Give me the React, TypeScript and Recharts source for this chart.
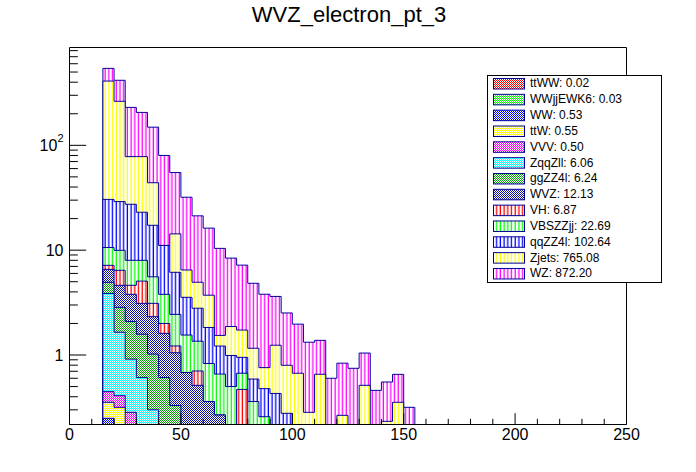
import React from 'react';
import { ComposedChart, Area, XAxis, YAxis, ReferenceArea, Legend } from 'recharts';

// bin low edges (GeV), 5 GeV bins
const BIN_LOW = [15, 20, 25, 30, 35, 40, 45, 50, 55, 60, 65, 70, 75, 80, 85, 90, 95, 100, 105, 110, 115, 120, 125, 130, 135, 140, 145, 150];
const BIN_END = 155;

// stack order, bottom to top (same as legend order)
const PROCESSES = ['ttWW', 'WWjjEWK6', 'WW', 'ttW', 'VVV', 'ZqqZll', 'ggZZ4l', 'WVZ', 'VH', 'VBSZZjj', 'qqZZ4l', 'Zjets', 'WZ'];
const TOTALS = ['0.02', '0.03', '0.53', '0.55', '0.50', '6.06', '6.24', '12.13', '6.87', '22.69', '102.64', '765.08', '872.20'];

// per-bin yields of each process
const ttWW = [0.006, 0.006, 0.004, 0.004, 0, 0, 0, 0, 0, 0, 0, 0, 0, 0, 0, 0, 0, 0, 0, 0, 0, 0, 0, 0, 0, 0, 0, 0];
const WWjjEWK6 = [0.01, 0.01, 0.005, 0.005, 0, 0, 0, 0, 0, 0, 0, 0, 0, 0, 0, 0, 0, 0, 0, 0, 0, 0, 0, 0, 0, 0, 0, 0];
const WW = [0.233, 0.199, 0.05, 0.05, 0, 0, 0, 0, 0, 0, 0, 0, 0, 0, 0, 0, 0, 0, 0, 0, 0, 0, 0, 0, 0, 0, 0, 0];
const ttW = [0.105, 0.102, 0.096, 0.07, 0.1, 0.05, 0, 0, 0, 0, 0, 0, 0, 0, 0, 0, 0, 0, 0, 0, 0, 0, 0, 0, 0, 0, 0, 0];
const VVV = [0.093, 0.092, 0.129, 0.07, 0.09, 0, 0, 0, 0, 0, 0, 0, 0, 0, 0, 0, 0, 0, 0, 0, 0, 0, 0, 0, 0, 0, 0, 0];
const ZqqZll = [3.42, 1.24, 0.63, 0.41, 0.11, 0, 0, 0, 0, 0, 0, 0, 0, 0, 0, 0, 0, 0, 0, 0, 0, 0, 0, 0, 0, 0, 0, 0];
const ggZZ4l = [1.07, 1.2, 1.17, 0.97, 0.72, 0.56, 0.33, 0, 0, 0, 0, 0, 0, 0, 0, 0, 0, 0, 0, 0, 0, 0, 0, 0, 0, 0, 0, 0];
const WVZ = [1.62, 1.77, 1.71, 1.53, 1.3, 1.0, 0.72, 0.68, 0.514, 0.36, 0.268, 0, 0, 0, 0, 0, 0, 0, 0, 0, 0, 0, 0, 0, 0, 0, 0, 0];
const VH = [0.61, 1.81, 0.83, 1.96, 0.79, 0.39, 0.17, 0, 0.19, 0, 0, 0, 0.47, 0, 0, 0, 0, 0, 0, 0, 0, 0, 0, 0, 0, 0, 0, 0];
const VBSZZjj = [3.43, 3.53, 3.38, 2.93, 2.46, 1.79, 1.22, 0.87, 0.65, 0.47, 0.39, 0.5, 0.2, 0.36, 0.258, 0.2, 0, 0, 0, 0, 0, 0, 0, 0, 0, 0, 0, 0];
const qqZZ4l = [19.9, 19.1, 19.4, 15, 11.7, 7.3, 3.71, 2.0, 1.44, 1.0, 0.56, 0.49, 0.28, 0.23, 0.22, 0.23, 0.278, 0, 0, 0, 0, 0, 0, 0, 0, 0, 0, 0];
const Zjets = [379.5, 234, 50.6, 55, 26.7, 0, 8.15, 2.92, 2.15, 1.89, 0.32, 0.88, 0.78, 0.57, 0.28, 0.81, 0.52, 0.67, 0.284, 0.655, 0, 0.266, 0, 0.514, 0, 0.233, 0.354, 0];
const WZ = [132, 154, 152, 128, 105, 69, 40.7, 25.5, 16.3, 12.5, 8.86, 6.53, 5.47, 3.67, 3.04, 2.38, 1.72, 1.3, 1.04, 0.725, 0.6, 0.57, 0.747, 0.53, 0.46, 0.32, 0.3, 0.317];

const X_TICKS = [0, 10, 20, 30, 40, 50, 60, 70, 80, 90, 100, 110, 120, 130, 140, 150, 160, 170, 180, 190, 200, 210, 220, 230, 240, 250];
const Y_TICKS = [0.3, 0.4, 0.5, 0.6, 0.7, 0.8, 0.9, 1, 2, 3, 4, 5, 6, 7, 8, 9, 10, 20, 30, 40, 50, 60, 70, 80, 90, 100, 200, 300, 400, 500, 600, 700, 800];
const Y_MIN = 0.2174;
const Y_MAX = 857;

const YIELDS: Record<string, number[]> = { ttWW, WWjjEWK6, WW, ttW, VVV, ZqqZll, ggZZ4l, WVZ, VH, VBSZZjj, qqZZ4l, Zjets, WZ };

const STYLES: Record<string, { color: string; hatch: boolean }> = {
  ttWW: { color: '#ff0000', hatch: false },
  WWjjEWK6: { color: '#00ff00', hatch: false },
  WW: { color: '#0000ff', hatch: false },
  ttW: { color: '#ffff00', hatch: false },
  VVV: { color: '#ff00ff', hatch: false },
  ZqqZll: { color: '#00ffff', hatch: false },
  ggZZ4l: { color: '#00a000', hatch: false },
  WVZ: { color: '#1010a0', hatch: false },
  VH: { color: '#ff0000', hatch: true },
  VBSZZjj: { color: '#00ff00', hatch: true },
  qqZZ4l: { color: '#0000ff', hatch: true },
  Zjets: { color: '#ffff00', hatch: true },
  WZ: { color: '#ff00ff', hatch: true },
};

const OUTLINE = '#00009c';
const FONT = '"Liberation Sans", Arial, Helvetica, sans-serif';
const HATCH = 3.71;
const FLOOR = 0.1; // below the axis, clipped away

// cumulative stack, one row per bin edge (step curves)
const floorRow = () => {
  const r: Record<string, number> = {};
  PROCESSES.forEach((p) => (r[p] = FLOOR));
  return r;
};
const rows = [
  { x: BIN_LOW[0], ...floorRow() },
  ...BIN_LOW.map((lo, i) => {
    const r: Record<string, number> = { x: lo };
    let sum = 0;
    PROCESSES.forEach((p) => {
      sum += YIELDS[p][i];
      r[p] = sum > 0 ? sum : FLOOR;
    });
    return r;
  }),
  { x: BIN_END, ...floorRow() },
];

const XTick = (props: any) => {
  const { x, y, payload } = props;
  const major = payload.value % 50 === 0;
  return (
    <g>
      <line x1={x} x2={x} y1={y} y2={y - (major ? 11.3 : 5.65)} stroke="#000" strokeWidth={1} />
      {major && (
        <text x={x} y={y + 15} textAnchor="middle" fontSize={16} fontFamily={FONT} fill="#000">
          {payload.value}
        </text>
      )}
    </g>
  );
};

const YTick = (props: any) => {
  const { x, y, payload } = props;
  const v = payload.value;
  const major = v === 1 || v === 10 || v === 100;
  return (
    <g>
      <line x1={x} x2={x + (major ? 16.7 : 8.35)} y1={y} y2={y} stroke="#000" strokeWidth={1} />
      {major && (
        <text x={x - 6} y={y} textAnchor="end" dominantBaseline="central" fontSize={16} fontFamily={FONT} fill="#000">
          {v === 100 ? (
            <>
              10<tspan dy={-7} fontSize={11}>2</tspan>
            </>
          ) : (
            v
          )}
        </text>
      )}
    </g>
  );
};

const LegendBox = () => (
  <div style={{ width: 175, height: 208, border: '1px solid #000', background: '#fff', boxSizing: 'border-box' }}>
    <svg width={173} height={206} style={{ display: 'block' }}>
      {PROCESSES.map((p, i) => (
        <g key={p}>
          <rect x={5.5} y={2.5 + i * 15.83} width={31} height={10.5} fill={`url(#fill-${p})`} stroke={OUTLINE} strokeWidth={1} />
          <text x={42} y={11.4 + i * 15.83} fontSize={12} fontFamily={FONT} fill="#000">
            {`${p}: ${TOTALS[i]}`}
          </text>
        </g>
      ))}
    </svg>
  </div>
);

export default function App() {
  const drawOrder = [...PROCESSES].reverse();
  return (
    <div style={{ position: 'absolute', left: 0, top: 0, width: 696, height: 472, background: '#fff' }}>
      <ComposedChart width={696} height={472} data={rows} margin={{ top: 47.5, right: 69.5, bottom: 17.5, left: 9.5 }}>
        <defs>
          {PROCESSES.map((p) => {
            const s = STYLES[p];
            return s.hatch ? (
              <pattern key={p} id={`fill-${p}`} patternUnits="userSpaceOnUse" width={HATCH} height={4}>
                <rect width={HATCH} height={4} fill="#fff" />
                <rect x={0.6} width={1.3} height={4} fill={s.color} />
              </pattern>
            ) : (
              <pattern key={p} id={`fill-${p}`} patternUnits="userSpaceOnUse" width={2} height={2}>
                <rect width={2} height={2} fill="#fff" />
                <rect width={1} height={1} fill={s.color} />
                <rect x={1} y={1} width={1} height={1} fill={s.color} />
              </pattern>
            );
          })}
        </defs>
        <XAxis
          dataKey="x"
          type="number"
          domain={[0, 250]}
          ticks={X_TICKS}
          interval={0}
          height={30}
          axisLine={false}
          tickLine={false}
          tickSize={0}
          tickMargin={0}
          tick={<XTick />}
          allowDataOverflow
        />
        <YAxis
          type="number"
          scale="log"
          domain={[Y_MIN, Y_MAX]}
          ticks={Y_TICKS}
          interval={0}
          width={60}
          axisLine={false}
          tickLine={false}
          tickSize={0}
          tickMargin={0}
          tick={<YTick />}
          allowDataOverflow
        />
        {drawOrder.map((p) => (
          <Area
            key={p}
            dataKey={p}
            type="stepAfter"
            baseValue="dataMin"
            stroke={OUTLINE}
            strokeWidth={1}
            fill={`url(#fill-${p})`}
            fillOpacity={1}
            dot={false}
            activeDot={false}
            isAnimationActive={false}
          />
        ))}
        <ReferenceArea x1={0} x2={250} y1={Y_MIN} y2={Y_MAX} fill="none" stroke="#000" strokeWidth={1} ifOverflow="visible" />
        <Legend
          layout="vertical"
          align="center"
          verticalAlign="middle"
          wrapperStyle={{ left: 487, top: 75, width: 175, height: 208 }}
          content={() => <LegendBox />}
        />
      </ComposedChart>
      <div
        style={{
          position: 'absolute',
          left: 0,
          top: 4,
          width: 698,
          textAlign: 'center',
          fontFamily: FONT,
          fontSize: 22,
          lineHeight: '22px',
          color: '#000',
        }}
      >
        WVZ_electron_pt_3
      </div>
    </div>
  );
}
